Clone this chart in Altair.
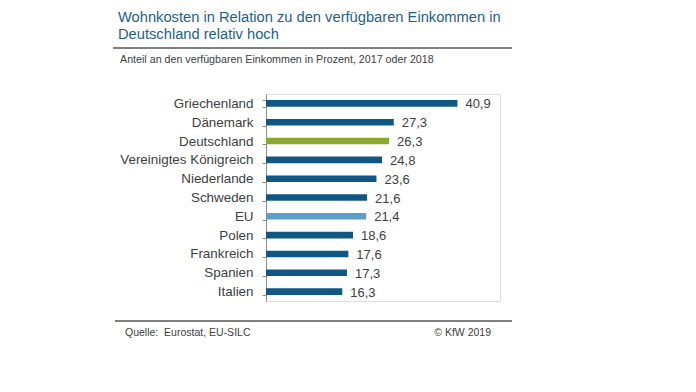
import altair as alt
import pandas as pd

countries = ["Griechenland", "Dänemark", "Deutschland", "Vereinigtes Königreich",
             "Niederlande", "Schweden", "EU", "Polen", "Frankreich", "Spanien", "Italien"]
values = [40.9, 27.3, 26.3, 24.8, 23.6, 21.6, 21.4, 18.6, 17.6, 17.3, 16.3]
groups = ["other", "other", "de", "other", "other", "other", "eu", "other", "other", "other", "other"]

title_lines = ["Wohnkosten in Relation zu den verfügbaren Einkommen in", "Deutschland relativ hoch"]
subtitle = "Anteil an den verfügbaren Einkommen in Prozent, 2017 oder 2018"
source = "Quelle:\u00a0 Eurostat, EU-SILC"
copyright_txt = "© KfW 2019"

df = pd.DataFrame({"land": countries, "wert": values, "gruppe": groups})

FONT = "Liberation Sans"
GREY = "#404040"

y_enc = alt.Y("land:N", sort=countries, title=None,
              scale=alt.Scale(paddingInner=0.65, paddingOuter=0.325),
              axis=alt.Axis(labelFont=FONT, labelFontSize=13.4, labelColor=GREY,
                            labelPadding=9, tickSize=4, tickColor="#8c8c8c",
                            domainColor="#8c8c8c", tickBand="extent", labelLimit=300))
x_enc = alt.X("wert:Q", scale=alt.Scale(domain=[0, 50]), axis=None)

bars = alt.Chart(df).mark_bar().encode(
    x=x_enc, y=y_enc,
    color=alt.Color("gruppe:N",
                    scale=alt.Scale(domain=["other", "de", "eu"],
                                    range=["#0f5785", "#8aa82a", "#5b9fc6"]),
                    legend=None),
)

labels = alt.Chart(df).transform_calculate(
    lab="replace(format(datum.wert, '.1f'), '.', ',')"
).mark_text(align="left", baseline="middle", dx=8, dy=1, font=FONT, fontSize=13,
            color=GREY).encode(x=x_enc, y=alt.Y("land:N", sort=countries), text="lab:N")

def txt(s, x, y, size, color, align="left"):
    return alt.Chart(pd.DataFrame({"t": [s]})).mark_text(
        align=align, baseline="alphabetic", font=FONT, fontSize=size, color=color
    ).encode(x=alt.value(x), y=alt.value(y), text="t:N")

def hline(x1, x2, y):
    return alt.Chart(pd.DataFrame({"a": [0]})).mark_rule(
        color="#7f7f7f", strokeWidth=2
    ).encode(x=alt.value(x1), x2=alt.value(x2), y=alt.value(y))

TITLE_C = "#1d5f8f"
chart = alt.layer(
    bars, labels,
    txt(title_lines[0], -148, -72, 14.7, TITLE_C),
    txt(title_lines[1], -148, -55, 14.7, TITLE_C),
    hline(-153, 246, -46),
    txt(subtitle, -146, -31, 10.7, GREY),
    hline(-151, 246, 227),
    txt(source, -141, 242, 10.5, GREY),
    txt(copyright_txt, 225, 242, 10.5, GREY, align="right"),
).properties(
    width=234, height=207,
    autosize=alt.AutoSizeParams(type="none"),
    padding={"left": 258, "top": 86, "right": 100, "bottom": 40},
).configure_view(stroke=None).configure(background="white")

chart.save("out.html", embed_options={"renderer": "svg", "actions": False})
